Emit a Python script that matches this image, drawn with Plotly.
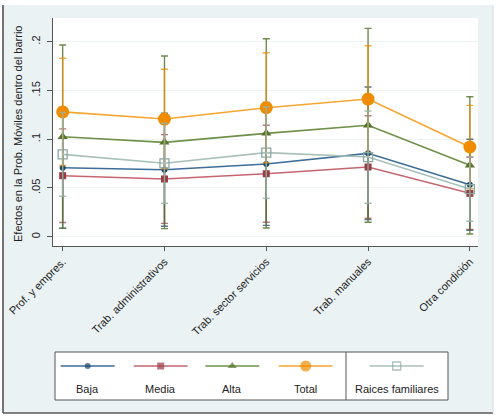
import plotly.graph_objects as go

# ---------------- data ----------------
categories = ["Prof. y empres.", "Trab. administrativos", "Trab. sector servicios",
              "Trab. manuales", "Otra condición"]

baja = [0.0708, 0.0687, 0.0746, 0.0855, 0.0533]
baja_ci = [0.062, 0.058, 0.063, 0.068, 0.0466]
media = [0.0626, 0.0592, 0.0646, 0.0715, 0.0445]
media_ci = [0.048, 0.0455, 0.0497, 0.0526, 0.037]
alta = [0.1026, 0.0968, 0.1060, 0.1143, 0.0732]
alta_ci = [0.094, 0.0885, 0.097, 0.0994, 0.0704]
total = [0.1280, 0.1207, 0.1323, 0.1412, 0.0920]
total_ci = [0.055, 0.051, 0.0564, 0.0547, 0.0427]
raices = [0.0845, 0.0753, 0.0862, 0.0817, 0.0489]
raices_ci = [0.043, 0.041, 0.0468, 0.0473, 0.033]

y_tickvals = [0, 0.05, 0.1, 0.15, 0.2]
y_ticktext = ["0", ".05", ".1", ".15", ".2"]
y_title = "Efectos en la Prob. Móviles dentro del barrio"

legend_labels = ["Baja", "Media", "Alta", "Total", "Raices familiares"]

# ---------------- styles ----------------
W, H = 500, 420
FONT = "Liberation Sans, Arial, sans-serif"
series = [
    # name, values, ci, marker color, line color, err color, symbol, size, legend size
    ("Baja", baja, baja_ci, "#1a476f", "#3d6d98", "rgba(26,71,111,0.75)", "circle", 6, 6),
    ("Media", media, media_ci, "#9b3a44", "#c4666f", "rgba(155,58,68,0.7)", "square", 7, 7),
    ("Alta", alta, alta_ci, "#55752f", "#6e9048", "rgba(85,117,47,0.85)", "triangle-up", 9, 8),
    ("Total", total, total_ci, "#f08c00", "#f6a531", "rgba(240,140,0,0.75)", "circle", 13, 11),
    ("Raices familiares", raices, raices_ci, "#8aa8a0", "#a8c0ba", "rgba(150,180,172,0.85)", "square-open", 9, 8),
]


def px(x):
    return x / W


def py(y):
    return 1 - y / H


PL, PR, PT, PB = 53, 478, 18, 246

fig = go.Figure()

for name, vals, ci, mc, lc, ec, sym, size, lsize in series:
    fig.add_trace(go.Scatter(
        x=categories, y=vals, mode="lines+markers", name=name, showlegend=False,
        line=dict(color=lc, width=1.6),
        marker=dict(symbol=sym, size=size, color=mc,
                    line=dict(color=mc, width=1.3 if sym == "square-open" else 0)),
        error_y=dict(type="data", array=ci, symmetric=True, color=ec,
                     thickness=1.4, width=3.5),
        xaxis="x", yaxis="y",
    ))

# legend samples on a pixel-based overlay axis
leg_centers = [87.7, 160.7, 232.3, 305.7, 396.7]
for (name, vals, ci, mc, lc, ec, sym, size, lsize), cx in zip(series, leg_centers):
    fig.add_trace(go.Scatter(
        x=[cx - 27, cx, cx + 27], y=[366, 366, 366], mode="lines+markers",
        showlegend=False, hoverinfo="skip",
        line=dict(color=lc, width=1.6),
        marker=dict(symbol=sym, size=[0, lsize, 0],
                    color=mc, line=dict(color=mc, width=1.3 if sym == "square-open" else 0)),
        xaxis="x2", yaxis="y2",
    ))

shapes = [
    # outer graph region
    dict(type="rect", xref="paper", yref="paper", x0=px(3), x1=px(493), y0=py(413), y1=py(5),
         fillcolor="#eaf2f3", line=dict(width=0), layer="below"),
    dict(type="line", xref="paper", yref="paper", x0=px(3), x1=px(3), y0=py(413), y1=py(5),
         line=dict(color="#4a4a4a", width=1.5), layer="below"),
    dict(type="line", xref="paper", yref="paper", x0=px(3), x1=px(493), y0=py(413), y1=py(413),
         line=dict(color="#5a5a5a", width=1.5), layer="below"),
    dict(type="line", xref="paper", yref="paper", x0=px(493), x1=px(493), y0=py(413), y1=py(5),
         line=dict(color="#d5dcdc", width=1), layer="below"),
    # plot region
    dict(type="rect", xref="paper", yref="paper", x0=px(PL), x1=px(PR), y0=py(PB), y1=py(PT),
         fillcolor="white", line=dict(width=0), layer="below"),
    # legend boxes
    dict(type="rect", xref="paper", yref="paper", x0=px(55), x1=px(448), y0=py(400), y1=py(352),
         fillcolor="white", line=dict(color="#555555", width=1), layer="below"),
    dict(type="line", xref="paper", yref="paper", x0=px(346), x1=px(346), y0=py(400), y1=py(352),
         line=dict(color="#555555", width=1), layer="below"),
]

annotations = [
    dict(text=y_title, xref="paper", yref="paper", x=px(18), y=py(134), textangle=-90,
         showarrow=False, font=dict(family=FONT, size=11, color="#222222"),
         xanchor="center", yanchor="middle"),
]
for cx, lab in zip(leg_centers, legend_labels):
    annotations.append(dict(text=lab, xref="x2", yref="y2", x=cx, y=388.5, showarrow=False,
                            font=dict(family=FONT, size=11, color="#222222"),
                            xanchor="center", yanchor="middle"))

fig.update_layout(
    template="none",
    width=W, height=H,
    margin=dict(l=0, r=0, t=0, b=0),
    paper_bgcolor="white",
    plot_bgcolor="rgba(0,0,0,0)",
    font=dict(family=FONT, size=11, color="#222222"),
    shapes=shapes,
    annotations=annotations,
    xaxis=dict(domain=[px(PL), px(PR)], type="category", range=[-0.095, 4.08],
               showgrid=False, zeroline=False, showline=True, linecolor="#555555", linewidth=1,
               ticks="outside", ticklen=4, tickcolor="#555555", tickangle=-45,
               tickfont=dict(family=FONT, size=11, color="#222222"), automargin=False,
               anchor="y"),
    yaxis=dict(domain=[py(PB), py(PT)], range=[-0.0095, 0.2243],
               tickvals=y_tickvals, ticktext=y_ticktext, tickangle=-90,
               showgrid=True, gridcolor="#eef3f3", gridwidth=1, zeroline=False,
               showline=True, linecolor="#555555", linewidth=1,
               ticks="outside", ticklen=5, tickcolor="#555555", ticklabelstandoff=3,
               tickfont=dict(family=FONT, size=11, color="#222222"), automargin=False,
               anchor="x"),
    xaxis2=dict(domain=[0, 1], range=[0, W], visible=False, fixedrange=True, anchor="y2"),
    yaxis2=dict(domain=[0, 1], range=[H, 0], visible=False, fixedrange=True, anchor="x2"),
)

fig.write_html("out.html")
